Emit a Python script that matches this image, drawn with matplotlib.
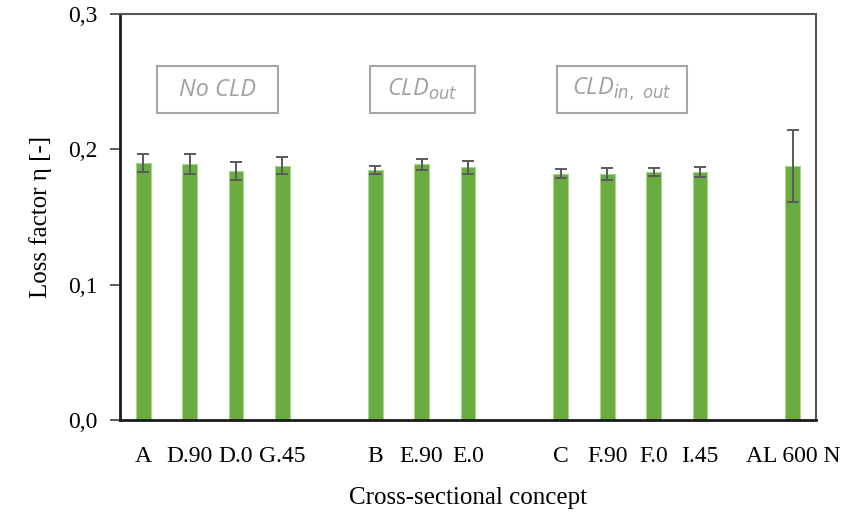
import matplotlib
matplotlib.use("Agg")
import matplotlib.pyplot as plt
from matplotlib.patches import Rectangle
import numpy as np

# Data (empty strings are spacer slots between groups)
labels = ["A", "D.90", "D.0", "G.45", "", "B", "E.90", "E.0", "",
          "C", "F.90", "F.0", "I.45", "", "AL 600 N"]
loss = [0.190, 0.189, 0.184, 0.188, None, 0.1845, 0.189, 0.1867, None,
        0.182, 0.1818, 0.1833, 0.1831, None, 0.1877]
err = [0.0065, 0.0074, 0.0066, 0.006, None, 0.003, 0.004, 0.005, None,
       0.0032, 0.0045, 0.003, 0.0038, None, 0.0265]
group_names = ["No CLD", "CLD$_{out}$", "CLD$_{in,\\ out}$"]

plt.rcParams['font.family'] = ['Liberation Serif', 'DejaVu Serif']

W, H = 847, 516
fig = plt.figure(figsize=(W/100, H/100), dpi=100)
ax = fig.add_axes([120/W, 1-420/H, (816-120)/W, (420-14)/H])

x = np.arange(len(labels))
idx = [i for i, v in enumerate(loss) if v is not None]
vals = [loss[i] for i in idx]
errs = [err[i] for i in idx]

ax.bar(idx, vals, width=0.32, color='#6AAB42', edgecolor='#A9D38F', linewidth=0.8, zorder=2)
ax.errorbar(idx, vals, yerr=errs, fmt='none', ecolor='#5A5A5A', elinewidth=1.4,
            capsize=4, capthick=1.4, zorder=3)

ax.set_xlim(-0.5, len(labels) - 0.5)
ax.set_ylim(0, 0.3)
ax.set_yticks([0, 0.1, 0.2, 0.3])
ax.set_yticklabels(["0,0", "0,1", "0,2", "0,3"], fontsize=17)
ax.set_xticks(x)
ax.set_xticklabels(labels, fontsize=17)
ax.tick_params(axis='x', length=0, pad=19)
ax.tick_params(axis='y', direction='out', length=7, width=1.2, pad=9, color='#404040')

ax.spines['left'].set_color('#1a1a1a')
ax.spines['left'].set_linewidth(2)
ax.spines['bottom'].set_color('#1a1a1a')
ax.spines['bottom'].set_linewidth(2)
ax.spines['top'].set_color('#555555')
ax.spines['top'].set_linewidth(1.5)
ax.spines['right'].set_color('#555555')
ax.spines['right'].set_linewidth(1.5)

ax.set_xlabel("Cross-sectional concept", fontsize=18, labelpad=14)
ax.set_ylabel("Loss factor η [-]", fontsize=18, labelpad=12)

# Group annotation boxes (pixel extents)
boxes = [(157, 278), (370, 475), (557, 687)]
top_px, bot_px = 66, 113
for (x0, x1), name in zip(boxes, group_names):
    fx0 = (x0 - 120) / (816 - 120)
    fx1 = (x1 - 120) / (816 - 120)
    fy0 = (420 - bot_px) / (420 - 14)
    fy1 = (420 - top_px) / (420 - 14)
    ax.add_patch(Rectangle((fx0, fy0), fx1 - fx0, fy1 - fy0, transform=ax.transAxes,
                           fc='white', ec='#A6A6A6', lw=1.5, zorder=4))
    ax.text((fx0 + fx1) / 2, (fy0 + fy1) / 2, name, transform=ax.transAxes,
            ha='center', va='center', fontsize=17, style='italic',
            color='#A0A0A0', family=['Open Sans', 'DejaVu Sans'], zorder=5)

fig.savefig("out.png", dpi=100)
